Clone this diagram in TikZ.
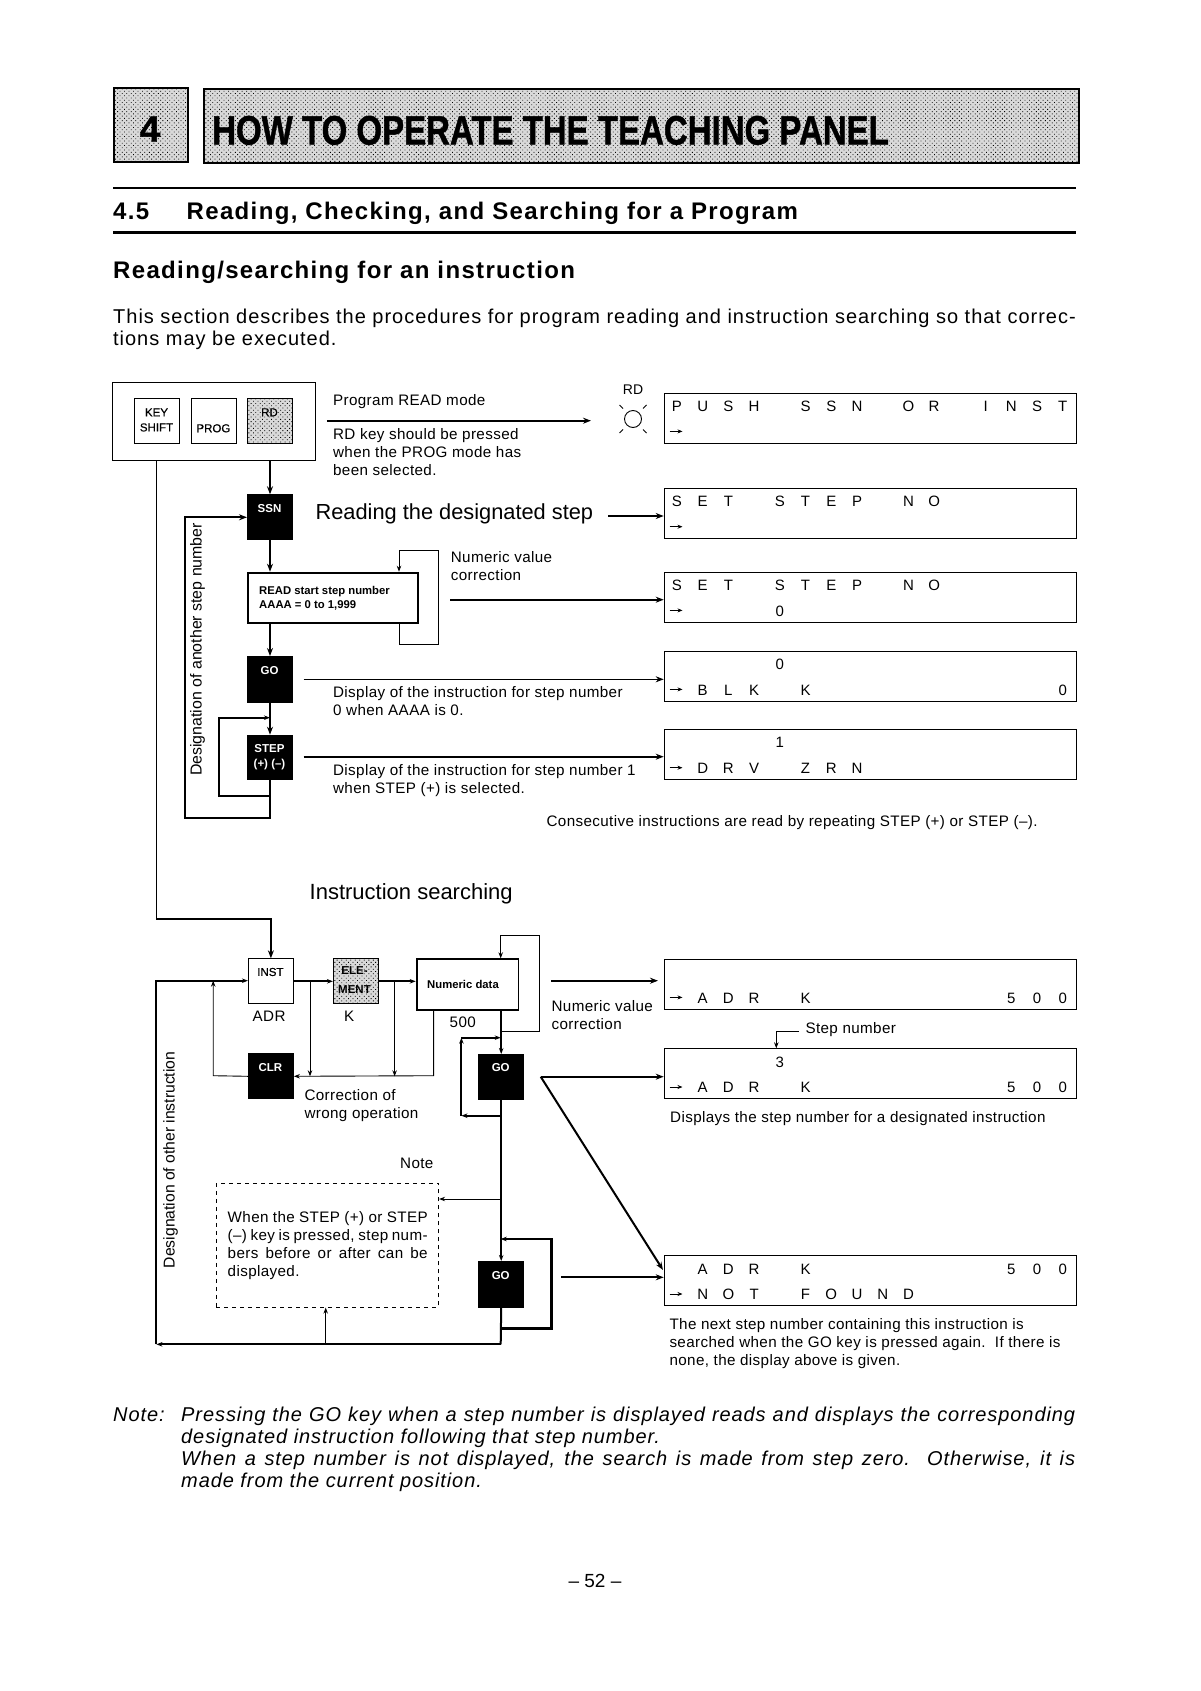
\documentclass[tikz,border=0pt]{standalone}
\usepackage{fontspec}
\usepackage{graphicx}
\usetikzlibrary{arrows.meta,patterns.meta,calc}
\setmainfont{Liberation Sans}
\newfontfamily\lsans[LetterSpace=4.6]{Liberation Sans}
\newfontfamily\psans[LetterSpace=4.9]{Liberation Sans}
\newfontfamily\hsans[LetterSpace=5.6]{Liberation Sans}
\newfontfamily\tsans[LetterSpace=2.5]{Liberation Sans}
\newfontfamily\mbold[FakeBold=0.5]{Liberation Sans}
\newfontfamily\hvy[FakeBold=1.2]{Liberation Sans Bold}
\newcommand\fs[1]{\fontsize{#1}{#1}\selectfont}
\newcommand\lineset[2]{\vtop{\baselineskip=#1pt\lineskip=0pt\lineskiplimit=-100pt\halign{##\hfil\cr #2\crcr}}}
\makeatletter
\def\lcdrow#1{\lcdloop#1\relax}
\def\lcdloop#1{\ifx#1\relax\else\makebox[25.72pt]{\ifx#1.\else#1\fi}\expandafter\lcdloop\fi}
\makeatother
\tikzset{
  x=1pt,y=-1pt,
  txt/.style={anchor=base west,inner sep=0pt,font=\fs{15.2}\tsans},
  keybox/.style={draw,line width=1pt,minimum width=45pt,minimum height=45pt,inner sep=0pt,anchor=north west},
  shaded/.style={keybox,preaction={fill=black!15},pattern={Dots[distance=3.2pt,radius=.6pt,angle=45]}},
  blackkey/.style={keybox,fill=black},
  keytxt/.style={inner sep=0pt,font=\mbold\fs{11.5}},
  blacktxt/.style={inner sep=0pt,font=\bfseries\fs{11.5},text=white},
  lcdbox/.style={draw,line width=1.1pt,minimum width=412pt,minimum height=50pt,inner sep=0pt,anchor=north west},
  lcdtxt/.style={anchor=base west,inner sep=0pt,font=\fs{15}},
  heavy/.style={line width=2pt},
  medium/.style={line width=1.4pt},
  thin1/.style={line width=.9pt},
  tipb/.style={-{Stealth[length=8pt,width=6pt]}},
  tips/.style={-{Stealth[length=6pt,width=4.5pt]}},
  band/.style={draw,line width=2pt,preaction={fill=black!15},pattern={Dots[distance=3.2pt,radius=.6pt,angle=45]},anchor=north west,inner sep=0pt},
}
\newcommand\lcd[5]{% name, top, row1, row2, arrow?
  \node[lcdbox] (#1) at (663.7,#2) {};
  \node[lcdtxt] (#1r1) at (663.9,#2+18.8) {\lcdrow{#3}};
  \node[lcdtxt] (#1r2) at (663.9,#2+44.3) {\lcdrow{#4}};
  \coordinate (#1a) at (669.5,#2+38.7);
  \draw[thin1,-{Stealth[length=5pt,width=4pt]}] (#1a) -- ++(13,0);
}
\begin{document}
\begin{tikzpicture}
\useasboundingbox (0,0) rectangle (1200,1691);
\fill[white] (0,0) rectangle (1200,1691);
% header
\node[band,minimum width=74.6pt,minimum height=74pt] (chapbox) at (112.7,86.7) {};
\node[inner sep=0pt,font=\hvy\fs{37}] (chapno) at (150,129) {4};
\node[band,minimum width=875.3pt,minimum height=74pt] (titlebox) at (202.7,88.3) {};
\node[anchor=base west,inner sep=0pt] (title) at (212,144.5) {\scalebox{.805}[1]{\hvy\fs{41}HOW TO OPERATE THE TEACHING PANEL}};
\coordinate (r1a) at (113,187.7); \coordinate (r1b) at (1076,187.7);
\coordinate (r2a) at (113,232.3); \coordinate (r2b) at (1076,232.3);
\draw[line width=2.4pt] (r1a) -- (r1b);
\draw[line width=2.4pt] (r2a) -- (r2b);
\node[txt,font=\fs{24}\hsans\bfseries] (sec) at (113,219.5) {4.5};
\node[txt,font=\fs{24}\hsans\bfseries] (sect) at (186.5,219.5) {Reading, Checking, and Searching for a Program};
\node[txt,font=\fs{24}\hsans\bfseries] (sub) at (113,278) {Reading/searching for an instruction};
\node[txt,font=\fs{20}\psans] (para) at (113,323.5) {\lineset{22}{This section describes the procedures for program reading and instruction searching so that correc-\cr tions may be executed.}};
% top key panel
\node[draw,line width=1pt,minimum width=203.5pt,minimum height=78.5pt,inner sep=0pt,anchor=north west] (panel) at (111.5,381.5) {};
\node[keybox] (keyshift) at (134,397.7) {};
\node[keybox] (prog) at (190.7,397.7) {};
\node[shaded] (rd) at (247,397.7) {};
\node[keytxt,align=center] (keyshiftt) at (156.5,420) {KEY\\[3.5pt]SHIFT};
\node[keytxt] (progt) at (213.4,428.3) {PROG};
\node[keytxt] (rdt) at (269.5,412.3) {RD};
% flow keys
\node[blackkey] (ssn) at (247,494.3) {};
\node[blacktxt] (ssnt) at (269.5,509) {SSN};
\node[draw,line width=1.8pt,minimum width=170pt,minimum height=50.6pt,inner sep=0pt,anchor=north west] (readbox) at (247,571.7) {};
\node[txt,font=\bfseries\fs{11.3}] (readt) at (259,594.7) {\lineset{14}{READ start step number\cr AAAA = 0 to 1,999}};
\node[blackkey,minimum height=46.3pt] (go0) at (247,656) {};
\node[blacktxt] (go0t) at (269.5,671) {GO};
\node[blackkey,minimum height=44.6pt] (stepk) at (247,734.7) {};
\node[blacktxt,align=center] (stept) at (269.5,757) {STEP\\[4pt](+) (–)};
% flow connectors top
\draw[heavy,tipb] (panel.south -| ssn.north) -- (ssn.north);
\draw[heavy,tipb] (ssn.south) -- (readbox.north -| ssn.south);
\draw[heavy,tipb] (readbox.south -| ssn.south) -- (go0.north);
\draw[heavy,tipb] (go0.south) -- (stepk.north);
\coordinate (cc1) at (399,622.3); \coordinate (cc2) at (399,644); \coordinate (cc3) at (438.6,644);
\coordinate (cc4) at (438.6,550); \coordinate (cc5) at (399,550);
\draw[thin1,tips] (cc1) -- (cc2) -- (cc3) -- (cc4) -- (cc5) -- (cc5 |- readbox.north);
\coordinate (sl1) at (219,795.7); \coordinate (sl2) at (219,717.7);
\draw[heavy,tips] (stepk.south) -- (stepk.south |- sl1) -- (sl1) -- (sl2) -- (sl2 -| stepk.north);
\coordinate (bl1) at (185,818.3);
\draw[heavy,tipb] (stepk.south) -- (stepk.south |- bl1) -- (bl1) -- (bl1 |- ssn.west) -- (ssn.west);
% main line
\coordinate (ml1) at (156.4,460); \coordinate (ml2) at (156.4,918.8);
\node[keybox] (inst) at (247.9,958.3) {};
\node[keytxt] (instt) at (270.4,972) {INST};
\draw[medium] (ml1) -- (ml2);
\draw[heavy,tipb] (ml2) -- (ml2 -| inst.north) -- (inst.north);
\node[txt,rotate=90,font=\fs{15.9}] (desig1) at (201.5,776) {Designation of another step number};
% displays
\lcd{d1}{392.7}{PUSH.SSN.OR.INST}{.}{}
\lcd{d2}{488}{SET.STEP.NO}{.}{}
\lcd{d3}{571.7}{SET.STEP.NO}{....0}{}
\lcd{d4}{650.7}{....0}{.BLK.K.........0}{}
\lcd{d5}{729}{....1}{.DRV.ZRN}{}
\lcd{d6}{958.7}{.}{.ADR.K.......500}{}
\lcd{d7}{1048.3}{....3}{.ADR.K.......500}{}
\lcd{d8}{1255.3}{.ADR.K.......500}{.NOT.FOUND}{}
% top text
\coordinate (a1a) at (326.8,420.7); \coordinate (a1b) at (591,420.7);
\draw[medium,tipb,line width=1.8pt] (a1a) -- (a1b);
\node[txt] (t1) at (332.9,405.3) {Program READ mode};
\node[txt] (t2) at (332.9,439.7) {\lineset{18}{RD key should be pressed\cr when the PROG mode has\cr been selected.}};
\node[inner sep=0pt,font=\fs{14}] (rdlab) at (633,389.3) {RD};
\node[draw,circle,line width=.9pt,minimum size=17pt,inner sep=0pt] (lamp) at (633,419) {};
\foreach \sx/\sy in {-1/-1,1/-1,-1/1,1/1}{\draw[thin1] ($(lamp.center)+(\sx*10,\sy*10.5)$) -- ($(lamp.center)+(\sx*13.5,\sy*14)$);}
\coordinate (a2) at (608,516);
\draw[heavy,tipb] (a2) -- (a2 -| d2.west);
\node[txt,font=\fs{21.8}] (t3) at (315.4,519) {Reading the designated step};
\node[txt] (t4) at (450.7,562.3) {\lineset{18}{Numeric value\cr correction}};
\coordinate (a3) at (450,599.7);
\draw[heavy,tipb] (a3) -- (a3 -| d3.west);
\coordinate (a4) at (303.6,679.3);
\draw[medium,tipb] (a4) -- (a4 -| d4.west);
\node[txt] (t5) at (332.9,697) {\lineset{18}{Display of the instruction for step number\cr 0 when AAAA is 0.}};
\coordinate (a5) at (303.6,756.7);
\draw[heavy,tipb] (a5) -- (a5 -| d5.west);
\node[txt] (t6) at (332.9,775.7) {\lineset{18}{Display of the instruction for step number 1\cr when STEP (+) is selected.}};
\node[txt] (t7) at (546.4,826) {Consecutive instructions are read by repeating STEP (+) or STEP (–).};
\node[txt,font=\fs{22}] (t8) at (309.5,899) {Instruction searching};
% lower keys
\node[shaded,minimum width=44.6pt] (elem) at (332.9,958.3) {};
\node[keytxt,align=center,font=\bfseries\fs{11.5}] (elemt) at (354.5,980) {ELE-\\[7pt]MENT};
\node[draw,line width=1.8pt,minimum width=101.8pt,minimum height=50.7pt,inner sep=0pt,anchor=north west] (numdata) at (415.7,958.3) {};
\node[inner sep=0pt,font=\bfseries\fs{11.3}] (numt) at (463,984) {Numeric data};
\node[blackkey] (clr) at (247.9,1053.3) {};
\node[blacktxt] (clrt) at (270.4,1068) {CLR};
\node[blackkey] (go1) at (478.2,1054) {};
\node[blacktxt] (go1t) at (500.7,1068) {GO};
\node[blackkey,minimum height=45.7pt] (go2) at (478.2,1261) {};
\node[blacktxt] (go2t) at (500.7,1276) {GO};
\node[draw,dashed,dash pattern=on 4pt off 4pt,line width=.9pt,minimum width=222.2pt,minimum height=124pt,inner sep=0pt,anchor=north west] (note) at (216,1182.7) {};
\node[txt] (notet) at (227.5,1222.7) {\lineset{18}{\hbox to 200pt{When the STEP (+) or STEP}\cr \hbox to 200pt{(–) key is pressed, step num-}\cr \hbox to 200pt{bers before or after can be}\cr displayed.}};
\node[txt] (notel) at (400,1168) {Note};
\node[txt] (adr) at (252.5,1021.7) {ADR};
\node[txt] (kl) at (344,1021.7) {K};
\node[txt] (n500) at (449.5,1027) {500};
\node[txt] (corr) at (304.3,1100) {\lineset{18.5}{Correction of\cr wrong operation}};
\node[txt] (nvc) at (551.4,1011) {\lineset{18}{Numeric value\cr correction}};
\node[txt] (stepn) at (805.3,1033) {Step number};
\node[txt] (t9) at (670,1122.3) {Displays the step number for a designated instruction};
\node[txt] (t10) at (669.3,1329.7) {\lineset{18}{The next step number containing this instruction is\cr searched when the GO key is pressed again.\ \ If there is\cr none, the display above is given.}};
\node[txt,rotate=90,font=\fs{15.7}] (desig2) at (174.5,1268.3) {Designation of other instruction};
% lower connectors
\coordinate (h1) at (156.4,980.7);
\coordinate (b1) at (500.7,1344.3);
\draw[heavy,tips] (h1 |- b1) -- (h1) -- (h1 -| inst.west);
\draw[heavy,tips] (inst.east) -- (elem.west);
\draw[heavy,tips] (elem.east) -- (numdata.west |- elem.east);
\coordinate (nb) at (433.6,1009);
\coordinate (cb) at (433.6,1075.7);
\draw[thin1,tips] (nb) -- (cb) -- (clr.east);
\coordinate (v1) at (310,980.7);
\draw[thin1,tips] (v1) -- (v1 |- clr.east);
\coordinate (v2) at (394.6,980.7);
\draw[thin1,tips] (v2) -- (v2 |- clr.east);
\coordinate (cl) at (213.2,1075.7);
\draw[thin1,tips] (clr.west) -- (cl) -- (cl |- h1);
\coordinate (nlt) at (500.7,935.7); \coordinate (nlr) at (539.3,935.7); \coordinate (nlb) at (539.3,1031.7); \coordinate (nlc) at (500.7,1031.7);
\draw[thin1,tips] (nlc) -- (nlb) -- (nlr) -- (nlt) -- (nlt |- numdata.north);
\draw[heavy,tips] (numdata.south -| go1.north) -- (go1.north);
\coordinate (gl1) at (500.7,1115.7); \coordinate (gl2) at (461.4,1115.7); \coordinate (gl3) at (461.4,1037.7); \coordinate (gl4) at (500.7,1037.7);
\draw[heavy,tips] (gl1) -- (gl2);
\draw[heavy,tips] (gl2) -- (gl3);
\draw[heavy,tips] (gl3) -- (gl4);
\draw[heavy,tips] (go1.south) -- (go2.north);
\coordinate (nn) at (500.7,1199);
\draw[thin1,tips] (nn) -- (nn -| note.east);
\coordinate (gr1) at (500.7,1328.3); \coordinate (gr2) at (551.4,1328.3); \coordinate (gr3) at (551.4,1239); \coordinate (gr4) at (500.7,1239);
\draw[heavy,tips,line width=2.4pt] (gr1) -- (gr2) -- (gr3) -- (gr4);
\draw[heavy] (go2.south) -- (b1);
\draw[heavy,tips] (b1) -- (h1 |- b1);
\coordinate (bu) at (325.7,1344.3);
\draw[thin1,tips] (bu) -- (bu |- note.south);
% lower display arrows
\coordinate (a6) at (551.4,980.7); \coordinate (a6e) at (658,980.7);
\draw[heavy,tipb] (a6) -- (a6e);
\coordinate (a7) at (540.7,1076.7);
\draw[heavy,tipb] (a7) -- (a7 -| d7.west);
\coordinate (a7d) at (663,1270);
\draw[heavy,tipb] (a7) -- (a7d);
\coordinate (a8) at (561.4,1277.3);
\draw[heavy,tipb] (a8) -- (a8 -| d8.west);
\coordinate (sn1) at (799,1031.7); \coordinate (sn2) at (776.3,1031.7);
\draw[thin1,tips] (sn1) -- (sn2) -- (sn2 |- d7.north);
% bottom
\node[txt,font=\fs{20}\lsans\itshape] (notel2) at (113,1421.5) {Note:};
\node[txt,font=\fs{20}\lsans\itshape] (noteb) at (181,1421.5) {\lineset{22.1}{\hbox to 894pt{Pressing the GO key when a step number is displayed reads and displays the corresponding}\cr designated instruction following that step number.\cr \hbox to 894pt{When a step number is not displayed, the search is made from step zero.\ \ Otherwise, it is}\cr made from the current position.}};
\node[inner sep=0pt,font=\fs{19}] (page) at (595,1581) {-- 52 --};
\end{tikzpicture}
\end{document}
